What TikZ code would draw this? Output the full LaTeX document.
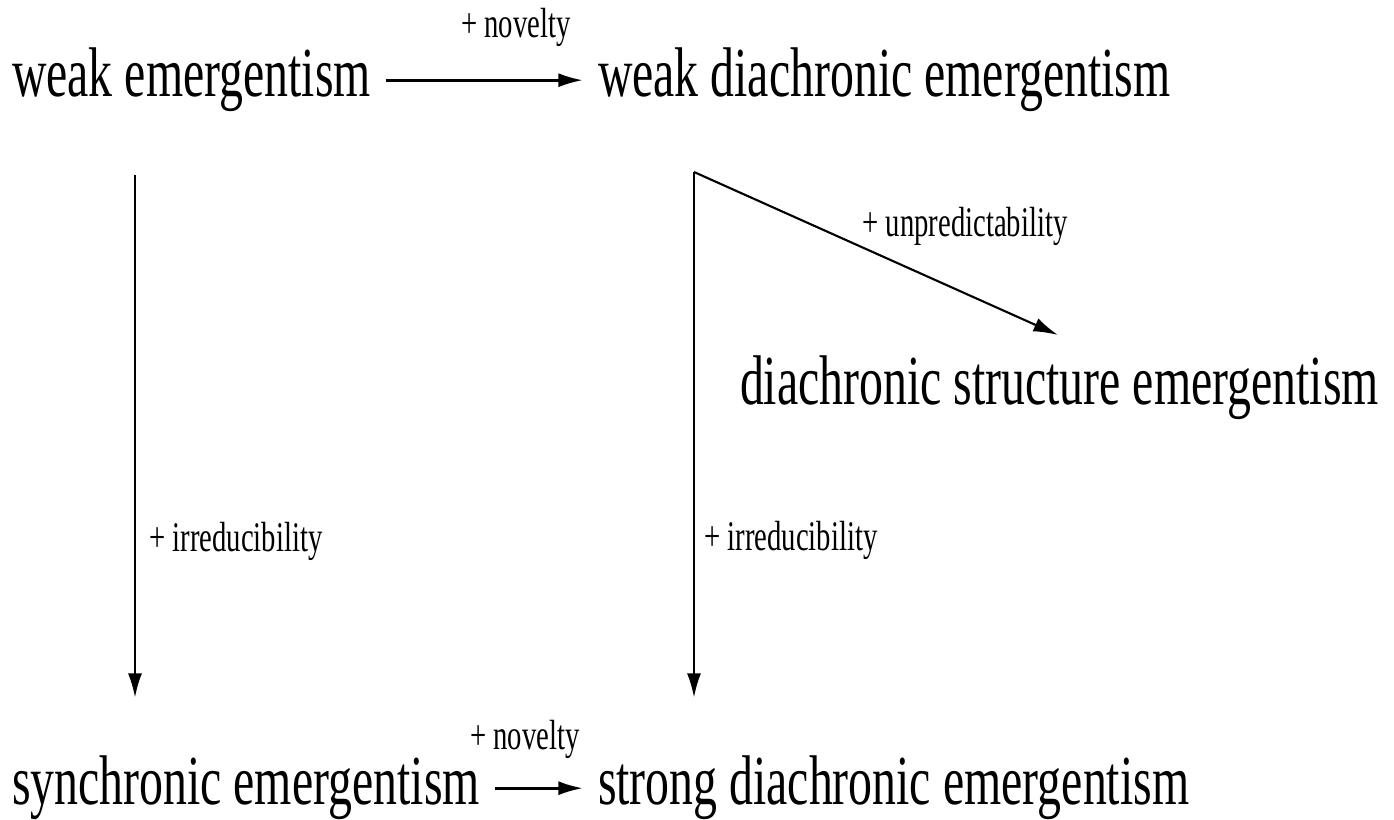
\documentclass[tikz,border=0pt]{standalone}
\usepackage{fontspec}
\setmainfont{Liberation Serif}[FakeStretch=0.68]
\usetikzlibrary{arrows.meta}
\tikzset{
  term/.style={inner sep=0pt,outer sep=1.5mm,anchor=base west,font=\fontsize{20}{24}\selectfont},
  lbl/.style={inner sep=0pt,font=\fontsize{12}{14}\selectfont},
  link/.style={-{Latex[length=7pt,width=4pt]},line width=0.8pt},
}

\begin{document}
\begin{tikzpicture}
\useasboundingbox (0,0) rectangle (13.94,8.2);
% the five kinds of emergentism
\node[term] (we)  at (-0.03,7.23) {weak emergentism};
\node[term] (wde) at (5.83,7.23)  {weak diachronic emergentism};
\node[term] (dse) at (7.25,4.15)  {diachronic structure emergentism};
\node[term] (se)  at (-0.03,0.15) {synchronic emergentism};
\node[term] (sde) at (5.83,0.15)  {strong diachronic emergentism};
% free ends of the long arrows
\coordinate (wetop) at (1.35,6.45);  \coordinate (sebot) at (1.35,1.22);
\coordinate (wdetop) at (6.94,6.48); \coordinate (sdebot) at (6.94,1.22);
\coordinate (dsetip) at (10.58,4.85);
% novelty (top and bottom row)
\draw[link] (we.east) -- node[lbl,pos=0.66,above=3.2mm]{+ novelty} (wde.west);
\draw[link] (se.east) -- node[lbl,pos=0.34,above=2.8mm]{+ novelty} (sde.west);
% irreducibility (downwards)
\draw[link] (wetop) -- node[lbl,pos=0.7,right=1.3mm]{+ irreducibility} (sebot);
\draw[link] (wdetop) -- node[lbl,pos=0.7,right=0.9mm]{+ irreducibility} (sdebot);
% unpredictability
\draw[link,line width=0.6pt] (wdetop) -- node[lbl,pos=0.46,anchor=south west]{+ unpredictability} (dsetip);
\end{tikzpicture}
\end{document}
